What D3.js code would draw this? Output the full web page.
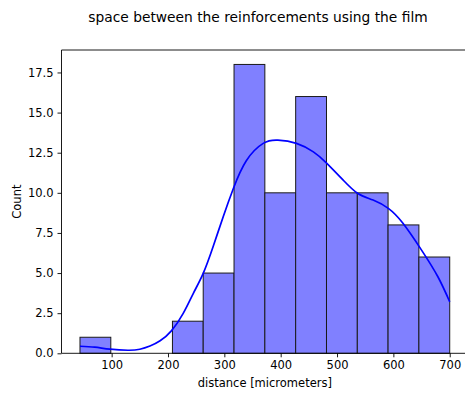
<!DOCTYPE html>
<html>
<head>
<meta charset="utf-8">
<script src="https://cdn.jsdelivr.net/npm/d3@7"></script>
<style>
  html, body { margin: 0; padding: 0; background: #fff; }
  svg { display: block; font-family: "DejaVu Sans", sans-serif; }
</style>
</head>
<body>
<svg id="chart" width="465" height="397"></svg>
<script>
// Histogram of spacing between reinforcements (film measurements)
const binEdges = [43.8, 98.5, 153.2, 207.9, 262.5, 317.2, 371.9, 426.6, 481.3, 536.0, 590.6, 645.3, 700];
const binCounts = [1, 0, 0, 2, 5, 18, 10, 16, 10, 10, 8, 6];

// Kernel density estimate, scaled to counts
const kdeX = [43.8, 70, 97, 129, 150, 168, 186, 206, 227, 245, 262.5, 280, 298, 316, 339, 369, 395, 428, 458, 481, 511, 537, 564, 591, 617, 650, 679, 700];
const kdeY = [0.44, 0.38, 0.26, 0.19, 0.25, 0.45, 0.78, 1.40, 2.49, 3.74, 4.98, 6.64, 8.51, 10.27, 12.0, 13.08, 13.28, 13.08, 12.55, 11.87, 10.79, 9.96, 9.55, 9.03, 8.10, 6.43, 4.77, 3.21];

const xTicks = [100, 200, 300, 400, 500, 600, 700];
const yTicks = [0, 2.5, 5, 7.5, 10, 12.5, 15, 17.5];

const titleText = "space between the reinforcements using the film";
const xLabel = "distance [micrometers]";
const yLabel = "Count";

const plot = { left: 61.5, right: 468.2, top: 50, bottom: 353.3 };
const fontSmall = 11.5, fontTitle = 13.8;

const svg = d3.select("#chart");

const x = d3.scaleLinear().domain([11, 732.8]).range([plot.left, plot.right]);
const y = d3.scaleLinear().domain([0, 18.9]).range([plot.bottom, plot.top]);

// Bars
const bins = binCounts.map((c, i) => ({ x0: binEdges[i], x1: binEdges[i + 1], count: c }));
svg.append("g")
  .selectAll("rect")
  .data(bins.filter(d => d.count > 0))
  .join("rect")
  .attr("x", d => x(d.x0))
  .attr("y", d => y(d.count))
  .attr("width", d => x(d.x1) - x(d.x0))
  .attr("height", d => y(0) - y(d.count))
  .attr("fill", "#8080ff")
  .attr("stroke", "#1a1a1a")
  .attr("stroke-width", 1);

// KDE line
const line = d3.line()
  .x((d, i) => x(kdeX[i]))
  .y(d => y(d))
  .curve(d3.curveNatural);
svg.append("path")
  .attr("d", line(kdeY))
  .attr("fill", "none")
  .attr("stroke", "#0000ff")
  .attr("stroke-width", 1.7);

// Axes
const xAxis = d3.axisBottom(x).tickValues(xTicks).tickFormat(d3.format("d"))
  .tickSize(4).tickPadding(4);
const yAxis = d3.axisLeft(y).tickValues(yTicks).tickFormat(d3.format(".1f"))
  .tickSize(4).tickPadding(4);

const gx = svg.append("g").attr("transform", `translate(0,${plot.bottom})`).call(xAxis);
const gy = svg.append("g").attr("transform", `translate(${plot.left},0)`).call(yAxis);
[gx, gy].forEach(g => {
  g.select(".domain").remove();
  g.selectAll("line").attr("stroke", "#000").attr("stroke-width", 0.9);
  g.selectAll("text").attr("font-size", fontSmall).attr("fill", "#000")
    .attr("font-family", "DejaVu Sans, sans-serif");
});

// Spines
const spine = svg.append("g").attr("fill", "none").attr("stroke", "#000").attr("stroke-width", 0.9);
spine.append("line").attr("x1", plot.left).attr("x2", plot.left).attr("y1", plot.top).attr("y2", plot.bottom);
spine.append("line").attr("x1", plot.left).attr("x2", plot.right).attr("y1", plot.bottom).attr("y2", plot.bottom);
spine.append("line").attr("x1", plot.left).attr("x2", plot.right).attr("y1", plot.top).attr("y2", plot.top);
spine.append("line").attr("x1", plot.right).attr("x2", plot.right).attr("y1", plot.top).attr("y2", plot.bottom);

// Labels
svg.append("text")
  .attr("x", 258).attr("y", 22)
  .attr("text-anchor", "middle")
  .attr("font-size", fontTitle)
  .text(titleText);

svg.append("text")
  .attr("x", (plot.left + plot.right) / 2).attr("y", 387)
  .attr("text-anchor", "middle")
  .attr("font-size", fontSmall)
  .text(xLabel);

svg.append("text")
  .attr("transform", `translate(21,${(plot.top + plot.bottom) / 2}) rotate(-90)`)
  .attr("text-anchor", "middle")
  .attr("font-size", fontSmall)
  .text(yLabel);
</script>
</body>
</html>
